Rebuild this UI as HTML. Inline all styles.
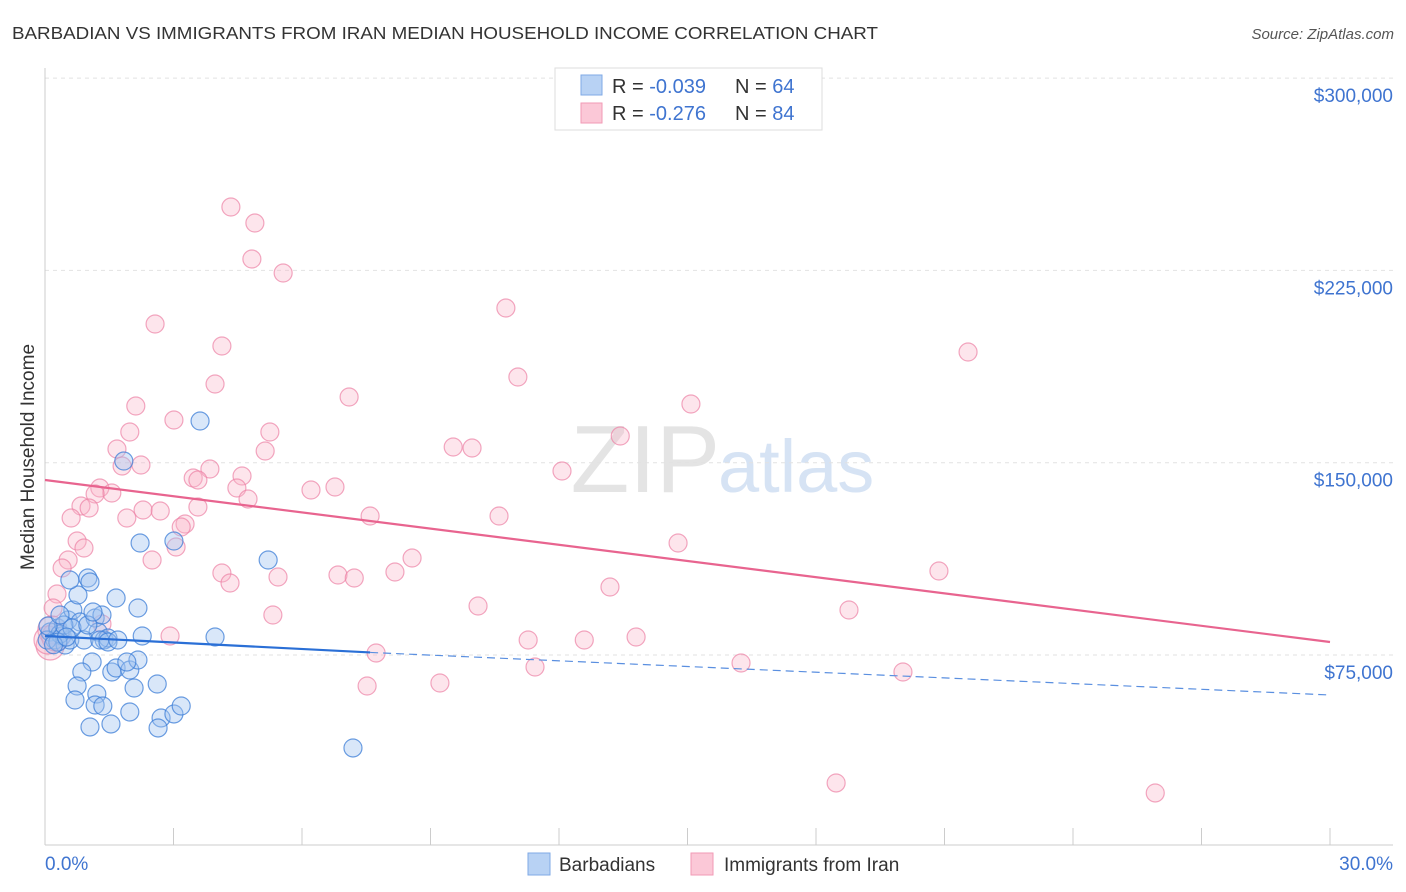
<!DOCTYPE html>
<html><head><meta charset="utf-8">
<style>
body{margin:0;background:#fff;font-family:"Liberation Sans",sans-serif;}
#wrap{position:relative;width:1406px;height:892px;overflow:hidden;}
svg text{font-family:"Liberation Sans",sans-serif;}
</style></head>
<body>
<div id="wrap">
<svg id="chart" width="1406" height="892">
  <text x="12" y="39" font-size="17.5" fill="#333" textLength="866" lengthAdjust="spacingAndGlyphs">BARBADIAN VS IMMIGRANTS FROM IRAN MEDIAN HOUSEHOLD INCOME CORRELATION CHART</text>
  <text x="1394" y="39" font-size="15" fill="#555" font-style="italic" text-anchor="end">Source: ZipAtlas.com</text>
  <text x="720" y="492" font-size="96" fill="#e4e4e4" text-anchor="end" font-family="Liberation Serif">ZIP</text>
  <text x="718" y="492" font-size="74" fill="#d6e3f4">atlas</text>
  <text transform="translate(34,457) rotate(-90)" font-size="19" fill="#333" text-anchor="middle">Median Household Income</text>
  <g id="grid"></g>
  <g id="axes"></g>
  <g id="pinkpts"></g>
  <g id="bluepts"></g>
  <g id="trends"></g>
  <g>
    <rect x="555" y="68" width="267" height="62" fill="#fff" stroke="#ddd"/>
    <rect x="581" y="75" width="21" height="20" fill="#b8d2f4" stroke="#7fa9e6"/>
    <rect x="581" y="103" width="21" height="20" fill="#fbc8d7" stroke="#f19ab5"/>
    <text x="612" y="93" font-size="20" fill="#333">R = <tspan fill="#3f74d0">-0.039</tspan></text>
    <text x="735" y="93" font-size="20" fill="#333">N = <tspan fill="#3f74d0">64</tspan></text>
    <text x="612" y="120" font-size="20" fill="#333">R =  <tspan fill="#3f74d0">-0.276</tspan></text>
    <text x="735" y="120" font-size="20" fill="#333">N = <tspan fill="#3f74d0">84</tspan></text>
  </g>
  <g>
    <rect x="528" y="853" width="22" height="22" fill="#b8d2f4" stroke="#7fa9e6"/>
    <text x="559" y="871" font-size="19" fill="#333">Barbadians</text>
    <rect x="691" y="853" width="22" height="22" fill="#fbc8d7" stroke="#f19ab5"/>
    <text x="724" y="871" font-size="19" fill="#333">Immigrants from Iran</text>
  </g>
</svg>
</div>
<script>
const yTicks=[75000,150000,225000,300000];
const yTickLabels=["$75,000","$150,000","$225,000","$300,000"];
const xTickLabels=["0.0%","30.0%"];
const blueX=[0.12,0.23,0.40,0.30,0.47,0.58,0.54,0.65,0.82,0.77,1.00,1.05,1.17,1.24,1.38,1.47,1.33,1.66,2.17,2.27,1.10,0.86,0.75,0.70,1.21,1.17,1.35,1.05,1.54,1.56,1.66,1.98,2.17,1.91,2.08,1.98,2.71,2.64,3.01,3.18,2.62,3.62,1.84,2.22,3.01,5.21,3.97,7.19,0.35,0.44,0.91,1.28,1.47,0.05,0.07,0.63,1.70,1.00,0.58,0.35,1.12,0.30,0.20,0.50];
const blueY=[83970,80850,82410,85530,78900,80850,88650,92550,87870,98400,105030,103470,89430,83970,80850,81630,90600,97230,93330,82410,72270,68370,62910,57450,59790,55500,55110,46920,48090,68370,69930,69150,73050,72270,62130,52770,50430,46530,51990,55110,63690,166260,150660,118680,119460,112050,82020,38730,83190,86700,80850,80850,80070,80850,86310,85530,80850,86700,104250,90600,91770,80000,79000,82000];
const pinkX=[4.34,4.90,4.83,5.56,2.57,4.13,10.76,11.04,21.55,3.97,7.10,2.12,3.01,15.08,1.98,5.25,1.68,5.14,9.53,9.97,13.43,12.07,2.24,1.80,3.85,4.60,3.46,3.57,1.28,1.56,1.17,4.48,4.74,6.21,6.77,0.84,1.03,3.57,2.29,2.69,0.61,1.91,7.59,10.60,3.27,3.18,0.75,3.06,0.91,2.50,8.57,14.78,0.54,0.40,4.13,4.32,5.44,6.84,7.22,8.17,20.87,0.28,0.19,13.19,10.11,18.77,5.32,1.33,2.92,11.28,12.59,13.80,7.73,11.44,16.25,20.03,7.52,9.22,18.47,25.92,0.12,0.16,0.07,0.25];
const pinkY=[249720,243480,229440,223980,204090,195510,210330,183420,193170,180690,175620,172110,166650,172890,161970,161970,155340,154560,156120,155730,160410,146760,149100,148710,147540,144810,144030,143250,140130,138180,137790,140130,135840,139350,140520,133110,132330,132720,131550,131160,128430,128430,129210,129210,126090,124920,119460,117120,116730,112050,112830,118680,112050,108930,106980,103080,105420,106200,105030,107370,107760,98790,93330,101520,94110,92550,90600,87090,82410,80850,80850,82020,75780,70320,71880,68370,62910,64080,25080,21180,78510,84750,80850,82000];
const blueTrend=[[0,82410],[7.59,76000],[30,59400]];
const pinkTrend=[[0,143250],[30,80070]];

const NS="http://www.w3.org/2000/svg";
const X0=45,X1=1330,Y75=655,PX=192.3;
function xs(v){return X0+(v/30)*(X1-X0);}
function ys(v){return Y75-(v-75000)/75000*PX;}
function mk(tag,attrs,parent){const e=document.createElementNS(NS,tag);for(const k in attrs)e.setAttribute(k,attrs[k]);parent.appendChild(e);return e;}
const grid=document.getElementById('grid'),axes=document.getElementById('axes');
yTicks.forEach((t,i)=>{
  const l=mk('line',{x1:X0,x2:1393,y1:ys(t),y2:ys(t),stroke:'#e2e2e2','stroke-dasharray':'4,4'},grid);
  
  
  const tx=mk('text',{x:1393,y:ys(t)+24,'font-size':19,fill:'#3f74d0','text-anchor':'end'},axes);
  tx.textContent=yTickLabels[i];
  
  
});
const ax=mk('line',{x1:X0,x2:X0,y1:68,y2:845,stroke:'#ccc'},axes);


const bx=mk('line',{x1:X0,x2:1393,y1:845,y2:845,stroke:'#ccc'},axes);


for(let i=0;i<=10;i++){
  const t=mk('line',{x1:xs(i*3),x2:xs(i*3),y1:828,y2:845,stroke:'#ccc'},axes);
  
  
}
const xl0=mk('text',{x:45,y:870,'font-size':19,fill:'#3f74d0'},axes);xl0.textContent=xTickLabels[0];


const xl1=mk('text',{x:1393,y:870,'font-size':19,fill:'#3f74d0','text-anchor':'end'},axes);xl1.textContent=xTickLabels[1];



const pg=document.getElementById('pinkpts');
pinkX.forEach((x,i)=>{
  const big=(x<0.3&&pinkY[i]<90000);
  const c=mk('circle',{cx:xs(x),cy:ys(pinkY[i]),r:big?14:9,fill:'rgba(248,180,200,0.35)',stroke:'rgba(236,130,165,0.7)','stroke-width':1.2},pg);
  
  
});
const bg=document.getElementById('bluepts');
blueX.forEach((x,i)=>{
  const c=mk('circle',{cx:xs(x),cy:ys(blueY[i]),r:9,fill:'rgba(160,195,240,0.4)',stroke:'rgba(60,125,215,0.75)','stroke-width':1.2},bg);
  
  
});
const tg=document.getElementById('trends');
const pt=mk('line',{x1:xs(pinkTrend[0][0]),y1:ys(pinkTrend[0][1]),x2:xs(pinkTrend[1][0]),y2:ys(pinkTrend[1][1]),stroke:'#e8648f','stroke-width':2.2},tg);


const bt=mk('line',{x1:xs(blueTrend[0][0]),y1:ys(blueTrend[0][1]),x2:xs(blueTrend[1][0]),y2:ys(blueTrend[1][1]),stroke:'#2a6fd6','stroke-width':2.2},tg);


const bd=mk('line',{x1:xs(blueTrend[1][0]),y1:ys(blueTrend[1][1]),x2:xs(blueTrend[2][0]),y2:ys(blueTrend[2][1]),stroke:'#5a8fe0','stroke-width':1.2,'stroke-dasharray':'8,5'},tg);


</script>
</body></html>
